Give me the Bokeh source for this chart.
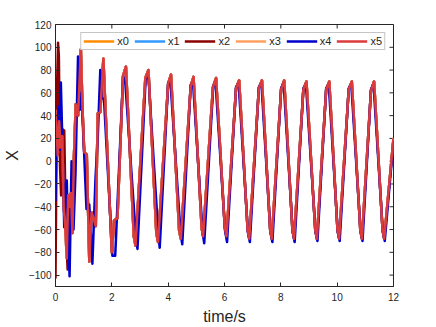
from bokeh.plotting import figure
from bokeh.models import Range1d, FixedTicker, Legend, LegendItem
from bokeh.embed import file_html
from bokeh.resources import INLINE

# ---- data ----
names = ["x0", "x1", "x2", "x3", "x4", "x5"]
colors = ["#FF8C00", "#3399FF", "#8B0000", "#FFA060", "#0000CD", "#DD3B3B"]

# x5 (red, drawn on top)
t5 = [0.00, 0.04, 0.08, 0.13, 0.18, 0.24, 0.29, 0.34, 0.40, 0.45, 0.50, 0.55,
      0.60, 0.65, 0.72, 0.80, 0.90, 0.96, 1.02, 1.11, 1.20, 1.28, 1.35, 1.43,
      1.50, 1.59, 1.70, 1.76, 2.00, 2.08, 2.20, 2.40, 2.50, 2.78, 2.84, 3.19,
      3.30, 3.58, 3.64, 4.00, 4.10, 4.39, 4.45, 4.80, 4.90, 5.19, 5.24, 5.59,
      5.70, 6.01, 6.07, 6.41, 6.52, 6.82, 6.88, 7.22, 7.33, 7.62, 7.68, 8.01,
      8.12, 8.41, 8.47, 8.80, 8.91, 9.22, 9.28, 9.61, 9.72, 10.01, 10.07, 10.41,
      10.52, 10.82, 10.88, 11.20, 11.31, 11.61, 11.67, 12.00]
x5 = [45, 28, 5, 35, 12, 22, -40, -55, -85, -30, -40, -28,
      -63, 0, 50, 40, 98, 45, 8, 6, -88, -45, -50, -57,
      42, 43, 90, 54, -80, -52, -50, 75, 83, -66, -74, 73,
      80, -63, -71, 68, 76, -61, -68, 66, 74, -59, -66, 65,
      73, -58, -66, 64, 71, -60, -68, 64, 71, -60, -68, 63,
      71, -60, -68, 63, 70, -60, -68, 63, 70, -60, -68, 63,
      70, -60, -68, 62, 70, -60, -68, 20]

# x4 (blue)
t4 = [0.00, 0.04, 0.08, 0.12, 0.16, 0.19, 0.25, 0.31, 0.36, 0.40, 0.44, 0.50,
      0.57, 0.64, 0.71, 0.80, 0.86, 0.92, 1.02, 1.10, 1.20, 1.31, 1.42, 1.50,
      1.59, 1.65, 1.72, 2.02, 2.12, 2.40, 2.48, 2.85, 2.91, 3.20, 3.30, 3.65,
      3.70, 4.00, 4.08, 4.44, 4.50, 4.80, 4.88, 5.22, 5.28, 5.60, 5.68, 6.02,
      6.09, 6.41, 6.50, 6.83, 6.90, 7.22, 7.31, 7.63, 7.70, 8.01, 8.10, 8.42,
      8.49, 8.80, 8.89, 9.23, 9.30, 9.61, 9.70, 10.02, 10.09, 10.41, 10.50, 10.83,
      10.90, 11.20, 11.29, 11.62, 11.69, 12.00]
x4 = [-35, 40, 20, 48, 10, 69, 10, -58, -20, -17, -60, -101,
      0, -60, -10, 92, 45, 60, 5, -42, -38, -90, -15, 20,
      80, 55, 55, -83, -83, 75, 68, -65, -77, 72, 74, -64,
      -76, 69, 70, -63, -73, 67, 70, -62, -72, 66, 70, -61,
      -71, 65, 69, -62, -71, 65, 69, -62, -71, 64, 69, -62,
      -71, 64, 68, -62, -70, 64, 68, -62, -70, 64, 68, -62,
      -70, 63, 68, -62, -70, 18]

# early parts of x0 and x2 (afterwards they run under x5)
x0_head_t = [0.00, 0.02, 0.05, 0.08, 0.11]
x0_head_v = [48, 65, 58, 40, 30]
x2_head_t = [0.00, 0.02, 0.06, 0.09, 0.12, 0.16, 0.20, 0.25, 0.31, 0.37, 0.43, 0.50]
x2_head_v = [-103, -40, 70, 104, 92, -5, -30, 28, 27, -60, -95, -40]

xticks = [0, 2, 4, 6, 8, 10, 12]
yticks = [-100, -80, -60, -40, -20, 0, 20, 40, 60, 80, 100, 120]
x_lim = (0, 12)
y_lim = (-110, 120)


def join(head_t, head_v, tail_t, tail_v):
    tt = list(head_t)
    vv = list(head_v)
    for a, b in zip(tail_t, tail_v):
        if a > head_t[-1]:
            tt.append(a)
            vv.append(b)
    return tt, vv


series = {
    "x0": join(x0_head_t, x0_head_v, t5, x5),
    "x1": (t5, x5),
    "x2": join(x2_head_t, x2_head_v, t5, x5),
    "x3": (t5, x5),
    "x4": (t4, x4),
    "x5": (t5, x5),
}

FONT = "Liberation Sans"
DARK = "#262626"
FW, FH = 338, 262
TICK = 4

p = figure(frame_width=FW, frame_height=FH, output_backend="svg",
           toolbar_location=None,
           x_range=Range1d(*x_lim), y_range=Range1d(*y_lim),
           min_border_left=48, min_border_right=34, min_border_top=24,
           min_border_bottom=38)
p.background_fill_color = "white"
p.border_fill_color = "white"
p.outline_line_color = DARK
p.outline_line_width = 1
p.xgrid.visible = False
p.ygrid.visible = False

for ax, ticks in ((p.xaxis[0], xticks), (p.yaxis[0], yticks)):
    ax.ticker = FixedTicker(ticks=ticks)
    ax.major_tick_in = TICK
    ax.major_tick_out = 0
    ax.minor_tick_line_color = None
    ax.axis_line_color = DARK
    ax.major_tick_line_color = DARK
    ax.major_label_text_font = FONT
    ax.major_label_text_font_size = "10px"
    ax.major_label_text_color = DARK
    ax.major_label_text_line_height = 1.0
    ax.major_label_standoff = 4
    ax.axis_label_text_font = FONT
    ax.axis_label_text_font_size = "16px"
    ax.axis_label_text_font_style = "normal"
    ax.axis_label_text_color = DARK
    ax.axis_label_text_line_height = 1.0

p.xaxis[0].major_label_standoff = 6
p.xaxis[0].axis_label = "time/s"
p.xaxis[0].axis_label_standoff = 4
p.yaxis[0].axis_label = "X"
p.yaxis[0].axis_label_standoff = 5

# inward ticks on the top and right edges of the box (MATLAB "box on")
dy = TICK * (y_lim[1] - y_lim[0]) / FH
dx = TICK * (x_lim[1] - x_lim[0]) / FW
p.segment(x0=xticks, y0=[y_lim[1]] * len(xticks), x1=xticks,
          y1=[y_lim[1] - dy] * len(xticks), line_color=DARK, line_width=1)
p.segment(x0=[x_lim[1]] * len(yticks), y0=yticks, x1=[x_lim[1] - dx] * len(yticks),
          y1=yticks, line_color=DARK, line_width=1)

items = []
for name, col in zip(names, colors):
    tt, vv = series[name]
    r = p.line(tt, vv, line_color=col, line_width=2.5, line_join="round")
    items.append(LegendItem(label=name, renderers=[r]))

legend = Legend(items=items, orientation="horizontal", location="top_right",
                margin=8, padding=2, spacing=5, glyph_width=31, glyph_height=12,
                label_height=12, label_width=10, label_standoff=3,
                label_text_font=FONT, label_text_font_size="11px",
                label_text_color=DARK, border_line_color="#8c8c8c",
                border_line_width=1, background_fill_color="white",
                background_fill_alpha=1)
p.add_layout(legend)

open("out.html", "w").write(file_html(p, INLINE))
